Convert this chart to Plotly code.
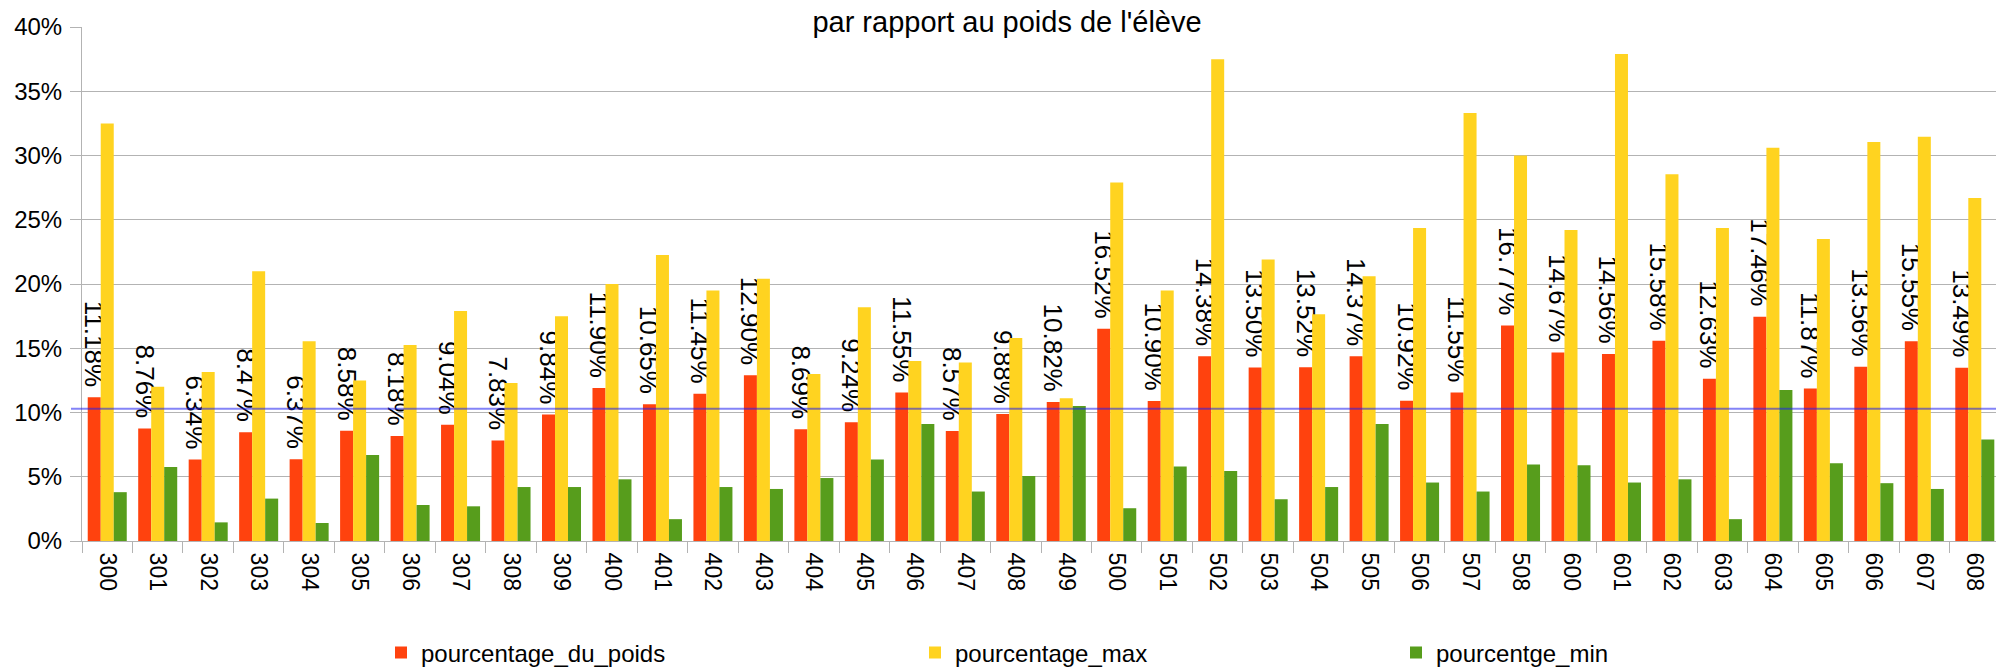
import plotly.graph_objects as go

classes = ["300", "301", "302", "303", "304", "305", "306", "307", "308", "309",
           "400", "401", "402", "403", "404", "405", "406", "407", "408", "409",
           "500", "501", "502", "503", "504", "505", "506", "507", "508",
           "600", "601", "602", "603", "604", "605", "606", "607", "608"]

pourcentage_du_poids = [11.18, 8.76, 6.34, 8.47, 6.37, 8.58, 8.18, 9.04, 7.83, 9.84,
                        11.90, 10.65, 11.45, 12.90, 8.69, 9.24, 11.55, 8.57, 9.88, 10.82,
                        16.52, 10.90, 14.38, 13.50, 13.52, 14.37, 10.92, 11.55, 16.77,
                        14.67, 14.56, 15.58, 12.63, 17.46, 11.87, 13.56, 15.55, 13.49]

pourcentage_max = [32.5, 12.0, 13.15, 21.0, 15.55, 12.5, 15.25, 17.9, 12.3, 17.5,
                   20.0, 22.25, 19.5, 20.4, 13.0, 18.2, 14.0, 13.9, 15.8, 11.1,
                   27.9, 19.5, 37.5, 21.9, 17.65, 20.6, 24.35, 33.3, 30.0,
                   24.2, 37.9, 28.55, 24.35, 30.6, 23.5, 31.05, 31.45, 26.7]

pourcentge_min = [3.8, 5.75, 1.45, 3.3, 1.4, 6.7, 2.8, 2.7, 4.2, 4.2,
                  4.8, 1.7, 4.2, 4.05, 4.9, 6.35, 9.1, 3.85, 5.05, 10.5,
                  2.55, 5.8, 5.45, 3.25, 4.2, 9.1, 4.55, 3.85, 5.95,
                  5.9, 4.55, 4.8, 1.7, 11.75, 6.05, 4.5, 4.05, 7.9]

seuil = 10.3
y_ticks = [0, 5, 10, 15, 20, 25, 30, 35, 40]
y_tick_labels = ["0%", "5%", "10%", "15%", "20%", "25%", "30%", "35%", "40%"]

FONT = "Liberation Sans"
W, H = 1996, 667
L, R, T, B = 82, 0, 27, 126

fig = go.Figure()
fig.add_trace(go.Bar(
    x=classes, y=pourcentage_du_poids, name="pourcentage_du_poids",
    marker=dict(color="#ff420e", line=dict(width=0)),
    texttemplate="%{y:.2f}%\u00a0", textposition="outside", textangle=90,
    constraintext="none", cliponaxis=False,
    textfont=dict(family=FONT, size=26, color="black"),
    legend="legend", showlegend=True,
))
fig.add_trace(go.Bar(
    x=classes, y=pourcentage_max, name="pourcentage_max",
    marker=dict(color="#ffd320", line=dict(width=0)),
    legend="legend2", showlegend=True,
))
fig.add_trace(go.Bar(
    x=classes, y=pourcentge_min, name="pourcentge_min",
    marker=dict(color="#579d1c", line=dict(width=0)),
    legend="legend3", showlegend=True,
))

fig.add_shape(type="line", xref="paper", yref="y",
              x0=-11 / (W - L - R), x1=1, y0=seuil, y1=seuil,
              line=dict(color="rgba(30,30,240,0.55)", width=2), layer="above")

leg_common = dict(orientation="h", xref="container", yref="container",
                  xanchor="left", yanchor="middle", y=1 - 653 / H,
                  font=dict(family=FONT, size=24, color="black"),
                  bgcolor="rgba(0,0,0,0)", borderwidth=0)

fig.update_layout(
    width=W, height=H,
    showlegend=True,
    margin=dict(l=L, r=R, t=T, b=B, pad=0, autoexpand=False),
    paper_bgcolor="white", plot_bgcolor="white",
    font=dict(family=FONT, size=22, color="black"),
    title=dict(text="par rapport au poids de l'élève", x=1007 / W, xanchor="center",
               xref="container", yref="container", y=1 - 22 / H, yanchor="middle",
               font=dict(family=FONT, size=29, color="black")),
    barmode="group", bargap=0.227, bargroupgap=0,
    legend=dict(x=381 / W, **leg_common),
    legend2=dict(x=915 / W, **leg_common),
    legend3=dict(x=1396 / W, **leg_common),
    xaxis=dict(type="category", range=[-0.5, 37.42], tickangle=90,
               tickfont=dict(family=FONT, size=23, color="black"),
               showline=True, linecolor="#b3b3b3", linewidth=1,
               ticks="outside", tickson="boundaries", ticklen=11, tickcolor="#b3b3b3",
               showgrid=False, ticklabelstandoff=6, automargin=False),
    yaxis=dict(range=[0, 40], tickmode="array", tickvals=y_ticks, ticktext=y_tick_labels,
               tickfont=dict(family=FONT, size=24, color="black"),
               showline=True, linecolor="#b3b3b3", linewidth=1,
               ticks="outside", ticklen=11, tickcolor="#b3b3b3",
               showgrid=True, gridcolor="#b3b3b3", gridwidth=1,
               zeroline=False, ticklabelstandoff=3, automargin=False),
)

fig.write_html("out.html", config={"displayModeBar": False},
               post_script="document.body.style.margin='0px';")
